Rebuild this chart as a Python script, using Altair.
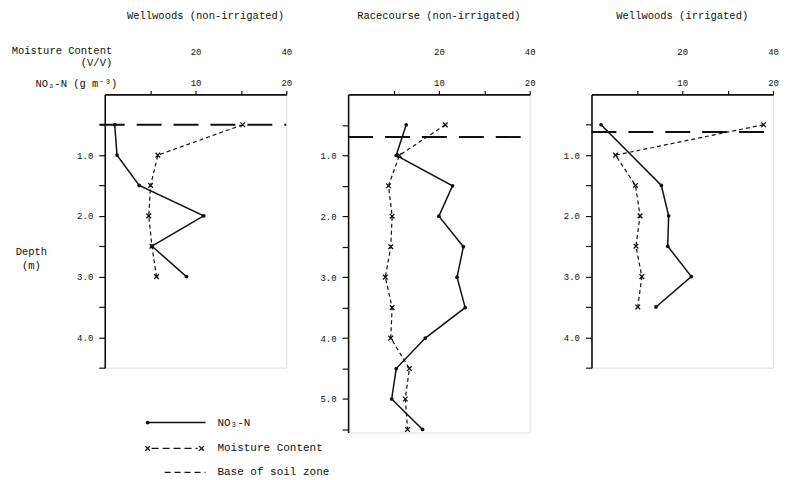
import altair as alt
import pandas as pd

FONT = "Liberation Mono, DejaVu Sans Mono, monospace"
INK = "#111111"

# ---------------- data ----------------
titles = ["Wellwoods (non-irrigated)", "Racecourse (non-irrigated)", "Wellwoods (irrigated)"]

# Wellwoods (non-irrigated)
ww_ni_no3_depth = [0.5, 1.0, 1.5, 2.0, 2.5, 3.0]
ww_ni_no3 = [1.1, 1.35, 3.8, 10.9, 5.2, 9.0]
ww_ni_moist_depth = [0.5, 1.0, 1.5, 2.0, 2.5, 3.0]
ww_ni_moist = [30.4, 11.7, 10.1, 9.7, 10.4, 11.4]
ww_ni_soil_base = 0.5

# Racecourse (non-irrigated)
rc_no3_depth = [0.5, 1.0, 1.5, 2.0, 2.5, 3.0, 3.5, 4.0, 4.5, 5.0, 5.5]
rc_no3 = [6.4, 5.3, 11.5, 10.0, 12.7, 12.0, 12.9, 8.5, 5.3, 4.8, 8.2]
rc_moist_depth = [0.5, 1.0, 1.5, 2.0, 2.5, 3.0, 3.5, 4.0, 4.5, 5.0, 5.5]
rc_moist = [21.4, 11.3, 8.9, 9.7, 9.4, 8.2, 9.7, 9.4, 13.5, 12.6, 13.1]
rc_soil_base = 0.7

# Wellwoods (irrigated)
wi_no3_depth = [0.5, 1.5, 2.0, 2.5, 3.0, 3.5]
wi_no3 = [1.05, 7.7, 8.5, 8.4, 11.0, 7.1]
wi_moist_depth = [0.5, 1.0, 1.5, 2.0, 2.5, 3.0, 3.5]
wi_moist = [37.9, 5.3, 9.7, 10.7, 9.8, 11.1, 10.2]
wi_soil_base = 0.62

no3_ticks = [5, 10, 15, 20]
no3_labels = [10, 20]
moist_labels = [20, 40]
legend_labels = ["NO\u2083-N", "Moisture Content", "Base of soil zone"]

# ---------------- styling ----------------
W = 182
PX_PER_M = 61
X_MARK = "M-1,-1L1,1M-1,1L1,-1"


def panel(title, no3_depth, no3, moist_depth, moist, soil_base, depth_max,
          first=False, title_dx=0, title_offset=16):
    height = round(depth_max * PX_PER_M)
    no3_df = pd.DataFrame({"depth": no3_depth, "no3": no3})
    moist_df = pd.DataFrame({"depth": moist_depth, "moist": moist})
    base_df = pd.DataFrame({"depth": [soil_base]})

    yticks = [0.5 * i for i in range(1, int(depth_max * 2) + 1)]
    yaxis = alt.Axis(
        orient="left", values=yticks,
        labelExpr="datum.value % 1 == 0 ? format(datum.value, '.1f') : ''",
        tickSize=6, tickWidth=1.2, labelPadding=6, domainWidth=1.6,
        domainColor=INK, tickColor=INK, labelColor=INK,
        grid=False, labelOverlap=False, labelFont=FONT, labelFontSize=9,
        title=["Depth", "(m)"] if first else None,
        titleAngle=0, titleAlign="center", titleBaseline="alphabetic",
        titleX=-74, titleY=161, titleLineHeight=14,
        titleFont=FONT, titleFontSize=10.5, titleFontWeight="normal", titleColor=INK,
    )
    y = alt.Y("depth:Q", scale=alt.Scale(domain=[0, depth_max], reverse=True,
                                         nice=False, zero=False), axis=yaxis)

    no3_axis = alt.Axis(
        orient="top", values=no3_ticks,
        labelExpr="datum.value == 10 || datum.value == 20 ? datum.label : ''",
        tickSize=4, tickWidth=1.2, labelPadding=3, domainWidth=1.6,
        domainColor=INK, tickColor=INK, labelColor=INK,
        grid=False, labelOverlap=False, labelFlush=False,
        labelFont=FONT, labelFontSize=9,
        title="NO\u2083-N (g m\u207b\u00b3)" if first else None,
        titleX=12, titleY=-8, titleAlign="right", titleBaseline="alphabetic",
        titleAngle=0, titleFont=FONT, titleFontSize=10.5,
        titleFontWeight="normal", titleColor=INK,
    )
    moist_axis = alt.Axis(
        orient="top", values=moist_labels, offset=31, domain=False, ticks=False,
        labelPadding=7, grid=False, labelOverlap=False, labelFlush=False,
        labelFont=FONT, labelFontSize=9, labelColor=INK,
        title=["Moisture Content", "(V/V)"] if first else None,
        titleX=7, titleY=-10, titleAlign="right", titleBaseline="alphabetic",
        titleAngle=0, titleLineHeight=12, titleFont=FONT, titleFontSize=10.5,
        titleFontWeight="normal", titleColor=INK,
    )
    no3_scale = alt.Scale(domain=[0, 20], nice=False, zero=True)
    moist_scale = alt.Scale(domain=[0, 40], nice=False, zero=True)

    no3_line = alt.Chart(no3_df).mark_line(color=INK, strokeWidth=1.5).encode(
        x=alt.X("no3:Q", scale=no3_scale, axis=no3_axis), y=y, order="depth:Q")
    no3_pts = alt.Chart(no3_df).mark_point(filled=True, color=INK, size=14, opacity=1).encode(
        x=alt.X("no3:Q", scale=no3_scale, axis=None), y=y)
    moist_line = alt.Chart(moist_df).mark_line(color=INK, strokeWidth=1.2,
                                               strokeDash=[4, 3]).encode(
        x=alt.X("moist:Q", scale=moist_scale, axis=moist_axis), y=y, order="depth:Q")
    moist_pts = alt.Chart(moist_df).mark_point(shape=X_MARK, filled=False, color=INK,
                                               size=22, strokeWidth=1.3, opacity=1).encode(
        x=alt.X("moist:Q", scale=moist_scale, axis=None), y=y)
    base = alt.Chart(base_df).mark_rule(color=INK, strokeWidth=2,
                                        strokeDash=[25, 12]).encode(
        y=y, x=alt.value(-5 if first else 0), x2=alt.value(W))

    layers = [no3_line, no3_pts, moist_line, moist_pts, base]

    if first:
        leg_y = [329, 355, 379]
        lx0, lx1, tx = 43, 101, 113
        d0 = pd.DataFrame({"label": [legend_labels[0]]})
        d1 = pd.DataFrame({"label": [legend_labels[1]]})
        d2 = pd.DataFrame({"label": [legend_labels[2]]})
        txt = dict(align="left", baseline="middle", font=FONT, fontSize=11, color=INK)
        layers += [
            alt.Chart(d0).mark_rule(color=INK, strokeWidth=1.5).encode(
                x=alt.value(lx0), x2=alt.value(lx1), y=alt.value(leg_y[0])),
            alt.Chart(d0).mark_point(filled=True, color=INK, size=14, opacity=1).encode(
                x=alt.value(lx0), y=alt.value(leg_y[0])),
            alt.Chart(d0).mark_text(**txt).encode(
                x=alt.value(tx), y=alt.value(leg_y[0]), text="label:N"),
            alt.Chart(d1).mark_rule(color=INK, strokeWidth=1.2, strokeDash=[7, 4]).encode(
                x=alt.value(lx0 + 4), x2=alt.value(lx1 - 8), y=alt.value(leg_y[1])),
            alt.Chart(d1).mark_point(shape=X_MARK, filled=False, color=INK, size=22,
                                     strokeWidth=1.3, opacity=1).encode(
                x=alt.value(lx0), y=alt.value(leg_y[1])),
            alt.Chart(d1).mark_point(shape=X_MARK, filled=False, color=INK, size=22,
                                     strokeWidth=1.3, opacity=1).encode(
                x=alt.value(lx1 - 4), y=alt.value(leg_y[1])),
            alt.Chart(d1).mark_text(**txt).encode(
                x=alt.value(tx), y=alt.value(leg_y[1]), text="label:N"),
            alt.Chart(d2).mark_rule(color=INK, strokeWidth=1.2, strokeDash=[6, 4]).encode(
                x=alt.value(lx0 + 17), x2=alt.value(lx1), y=alt.value(leg_y[2])),
            alt.Chart(d2).mark_text(**txt).encode(
                x=alt.value(tx), y=alt.value(leg_y[2]), text="label:N"),
        ]

    return alt.layer(*layers).resolve_scale(x="independent").properties(
        width=W, height=height,
        title=alt.TitleParams(title, frame="group", anchor="middle", offset=title_offset,
                              baseline="alphabetic", dx=title_dx, font=FONT,
                              fontSize=10.5, fontWeight="normal", color=INK),
    )


p1 = panel(titles[0], ww_ni_no3_depth, ww_ni_no3, ww_ni_moist_depth, ww_ni_moist,
           ww_ni_soil_base, 4.5, first=True, title_dx=10, title_offset=16)
p2 = panel(titles[1], rc_no3_depth, rc_no3, rc_moist_depth, rc_moist,
           rc_soil_base, 5.55, title_offset=18)
p3 = panel(titles[2], wi_no3_depth, wi_no3, wi_moist_depth, wi_moist,
           wi_soil_base, 4.5, title_offset=18)

chart = alt.hconcat(p1, p2, p3, spacing=62, bounds="flush").properties(
    padding={"left": 2, "top": 2, "right": 0, "bottom": 0}
).configure_view(stroke=None).configure(background="white")

chart.save("out.html", embed_options={"renderer": "svg", "actions": False})
